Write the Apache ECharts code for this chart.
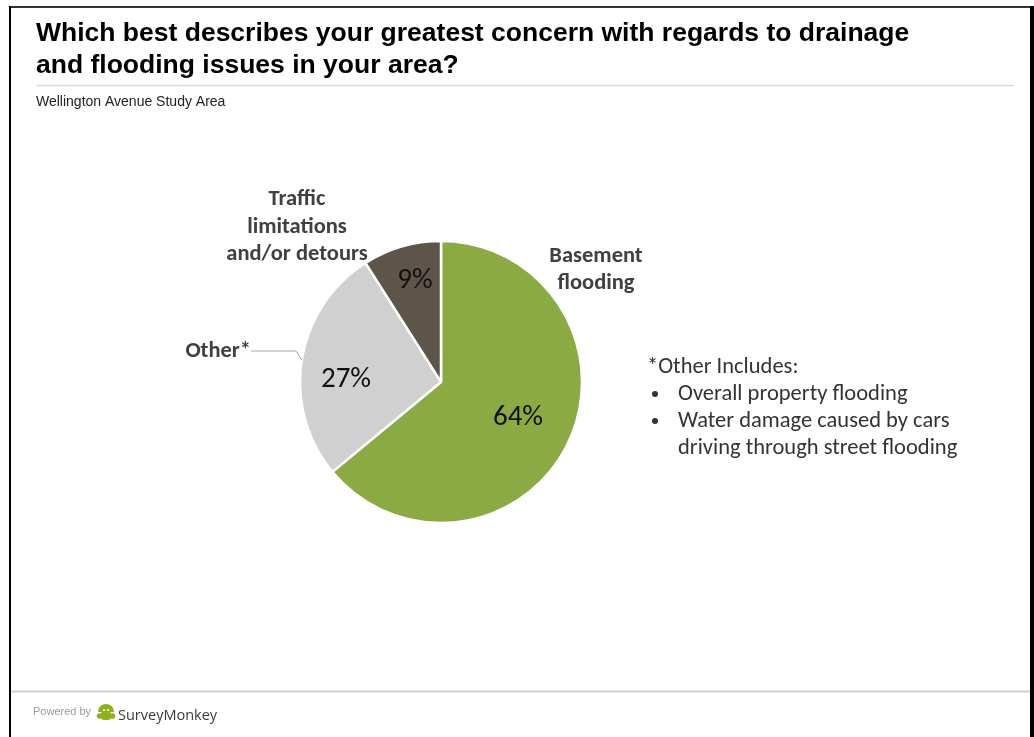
<!DOCTYPE html>
<html>
<head>
<meta charset="utf-8">
<script src="https://cdn.jsdelivr.net/npm/echarts@6/dist/echarts.min.js"></script>
<style>
  html, body { margin: 0; padding: 0; background: #ffffff; }
  #chart { width: 1034px; height: 737px; }
</style>
</head>
<body>
<div id="chart"></div>
<script>
// Survey answers, share of respondents (%)
const categories = ['Basement flooding', 'Other*', 'Traffic limitations and/or detours'];
const shares = [64, 27, 9];
const sliceColors = ['#8BAA44', '#D0D0D0', '#5E554A'];
// Category captions as printed beside the pie
const captions = ['Basement\nflooding', 'Other*', 'Traffic\nlimitations\nand/or detours'];
// Footnote explaining the "Other" answers
const noteHeading = '*Other Includes:';
const noteBullets = ['Overall property flooding', 'Water damage caused by cars\ndriving through street flooding'];

const titleText = 'Which best describes your greatest concern with regards to drainage\nand flooding issues in your area?';
const subtitleText = 'Wellington Avenue Study Area';

const labelFont = 'Carlito, Lato, "Open Sans", sans-serif';

// Where each printed label sits on the page
const percentSpots = [[518, 418], [346, 380], [415, 281]];
const captionSpots = [
  { x: 596, y: 270, align: 'center' },
  { x: 251, y: 351, align: 'right' },
  { x: 297, y: 227, align: 'center' }
];

const pieData = categories.map((name, i) => ({
  name: name,
  value: shares[i],
  itemStyle: { color: sliceColors[i] }
}));

const captionData = categories.map((name, i) => ({
  name: name,
  value: shares[i],
  label: { formatter: captions[i] },
  labelLine: { show: i === 1 }
}));

const chart = echarts.init(document.getElementById('chart'), null, { renderer: 'canvas' });

const logoGreen = '#8DB21E';

chart.setOption({
  backgroundColor: '#ffffff',
  animation: false,
  title: [
    {
      text: titleText,
      left: 36,
      top: 18,
      padding: 0,
      textStyle: {
        fontFamily: '"Liberation Sans", Arial, sans-serif',
        fontWeight: 'bold',
        fontSize: 26.5,
        lineHeight: 32,
        color: '#000000'
      }
    },
    {
      text: subtitleText,
      left: 36,
      top: 95,
      padding: 0,
      textStyle: {
        fontFamily: '"Liberation Sans", Arial, sans-serif',
        fontWeight: 'normal',
        fontSize: 14,
        color: '#222222'
      }
    }
  ],
  series: [
    {
      type: 'pie',
      center: [441, 382],
      radius: [0, 141],
      startAngle: 90,
      clockwise: true,
      silent: true,
      itemStyle: { borderColor: '#ffffff', borderWidth: 2.5 },
      label: {
        show: true,
        position: 'inside',
        formatter: '{c}%',
        fontFamily: labelFont,
        fontSize: 29,
        color: '#111111'
      },
      labelLayout: function (p) {
        const s = percentSpots[p.dataIndex];
        return { x: s[0], y: s[1], align: 'center', verticalAlign: 'middle' };
      },
      data: pieData
    },
    {
      type: 'pie',
      center: [441, 382],
      radius: [0, 141],
      startAngle: 90,
      clockwise: true,
      silent: true,
      z: 3,
      itemStyle: { color: 'rgba(0,0,0,0)', borderWidth: 0 },
      label: {
        show: true,
        position: 'outside',
        fontFamily: labelFont,
        fontWeight: 'bold',
        fontSize: 22.5,
        lineHeight: 27.5,
        color: '#404040',
        align: 'center'
      },
      labelLine: {
        show: false,
        length: 0,
        length2: 45,
        lineStyle: { color: '#A6A6A6', width: 1 }
      },
      labelLayout: function (p) {
        const s = captionSpots[p.dataIndex];
        return { x: s.x, y: s.y, align: s.align, verticalAlign: 'middle' };
      },
      data: captionData
    }
  ],
  graphic: [
    // page frame
    { type: 'line', shape: { x1: 10, y1: 7, x2: 1031, y2: 7 }, style: { stroke: '#333333', lineWidth: 2 }, silent: true },
    { type: 'line', shape: { x1: 10, y1: 6, x2: 10, y2: 737 }, style: { stroke: '#000000', lineWidth: 2 }, silent: true },
    { type: 'rect', shape: { x: 1030, y: 6, width: 4, height: 731 }, style: { fill: '#000000' }, silent: true },
    // rules under the title and above the footer
    { type: 'line', shape: { x1: 36, y1: 85.5, x2: 1014, y2: 85.5 }, style: { stroke: '#DADADA', lineWidth: 1.5 }, silent: true },
    { type: 'line', shape: { x1: 11, y1: 691.5, x2: 1030, y2: 691.5 }, style: { stroke: '#CFCFCF', lineWidth: 2 }, silent: true },
    // footnote
    {
      type: 'text', x: 647, y: 367, silent: true,
      style: { text: noteHeading, font: '22.5px ' + labelFont, fill: '#333333', verticalAlign: 'middle' }
    },
    { type: 'circle', shape: { cx: 655, cy: 394, r: 3 }, style: { fill: '#333333' }, silent: true },
    { type: 'circle', shape: { cx: 655, cy: 421, r: 3 }, style: { fill: '#333333' }, silent: true },
    {
      type: 'text', x: 678, y: 394, silent: true,
      style: { text: noteBullets[0], font: '22.5px ' + labelFont, fill: '#333333', verticalAlign: 'middle' }
    },
    {
      type: 'text', x: 678, y: 408, silent: true,
      style: { text: noteBullets[1], font: '22.5px ' + labelFont, fill: '#333333', lineHeight: 27 }
    },
    // footer
    {
      type: 'text', x: 33, y: 706, silent: true,
      style: { text: 'Powered by', font: '11px "Liberation Sans", Arial, sans-serif', fill: '#9A9A9A' }
    },
    {
      type: 'sector', silent: true,
      shape: { cx: 106, cy: 712, r: 8, r0: 0, startAngle: Math.PI, endAngle: Math.PI * 2 },
      style: { fill: logoGreen }
    },
    { type: 'rect', shape: { x: 101, y: 711, width: 10, height: 9, r: 3 }, style: { fill: logoGreen }, silent: true },
    { type: 'circle', shape: { cx: 99.5, cy: 716, r: 2.8 }, style: { fill: logoGreen }, silent: true },
    { type: 'circle', shape: { cx: 112.5, cy: 716, r: 2.8 }, style: { fill: logoGreen }, silent: true },
    { type: 'circle', shape: { cx: 104, cy: 710, r: 1 }, style: { fill: '#ffffff' }, silent: true },
    { type: 'circle', shape: { cx: 108, cy: 710, r: 1 }, style: { fill: '#ffffff' }, silent: true },
    {
      type: 'text', x: 118, y: 708, silent: true,
      style: { text: 'SurveyMonkey', font: '14.5px "Open Sans", "Noto Sans", sans-serif', fill: '#3A3A3A' }
    }
  ]
});
</script>
</body>
</html>
